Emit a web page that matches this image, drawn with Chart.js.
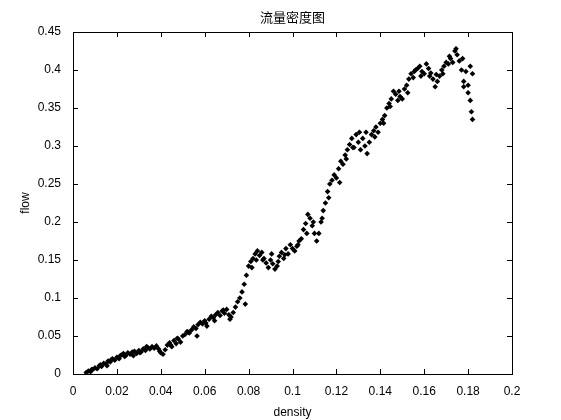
<!DOCTYPE html>
<html>
<head>
<meta charset="utf-8">
<script src="https://cdn.jsdelivr.net/npm/chart.js@4"></script>
<style>
  body { margin: 0; background: #fff; }
  #wrap { width: 561px; height: 420px; }
</style>
</head>
<body>
<div id="wrap"><canvas id="c" width="561" height="420"></canvas></div>
<script>
// densidad / flujo
const densityVals = [0.006,0.007,0.008,0.009,0.010,0.011,0.012,0.013,0.014,0.015,0.016,0.017,0.018,0.019,0.020,0.021,0.022,0.023,0.024,0.025,0.026,0.027,0.028,0.029,0.030,0.031,0.032,0.033,0.034,0.035,0.036,0.037,0.038,0.039,0.040,0.041,0.042,0.043,0.044,0.045,0.046,0.047,0.048,0.049,0.050,0.051,0.052,0.053,0.054,0.055,0.056,0.057,0.058,0.059,0.060,0.061,0.062,0.063,0.064,0.065,0.066,0.067,0.068,0.069,0.070,0.071,0.072,0.073,0.074,0.075,0.076,0.077,0.078,0.079,0.080,0.081,0.082,0.083,0.084,0.085,0.086,0.087,0.088,0.089,0.090,0.091,0.092,0.093,0.094,0.095,0.096,0.097,0.098,0.099,0.100,0.101,0.102,0.103,0.104,0.105,0.106,0.107,0.108,0.109,0.110,0.111,0.112,0.113,0.114,0.115,0.116,0.117,0.118,0.119,0.120,0.121,0.122,0.123,0.124,0.125,0.126,0.127,0.128,0.129,0.130,0.131,0.132,0.133,0.134,0.135,0.136,0.137,0.138,0.139,0.140,0.141,0.142,0.143,0.144,0.145,0.146,0.147,0.148,0.149,0.150,0.151,0.152,0.153,0.154,0.155,0.156,0.157,0.158,0.159,0.160,0.161,0.162,0.163,0.164,0.165,0.166,0.167,0.168,0.169,0.170,0.171,0.172,0.173,0.174,0.175,0.176,0.177,0.178,0.179,0.180,0.181,0.182,0.181,0.182,0.1815,0.178,0.180,0.0085,0.0125,0.0175,0.0235,0.0305,0.0445,0.0525,0.0605,0.0685,0.0835,0.0965,0.1135,0.1245,0.1335,0.1445,0.1555,0.1685,0.1745,
    0.0155,0.0215,0.0275,0.0335,0.0395,0.0475,0.0565,0.0645,0.0715,0.0785,0.0815,0.0865,0.0905,0.0935,0.1025,0.1065,0.1095,0.1165,0.1215,0.1275,0.1305,0.1375,0.1415,0.1485,0.1525,0.1585,0.1625,0.1655,0.1715,0.1775];
const flowVals = [0.002,0.004,0.003,0.006,0.008,0.007,0.011,0.010,0.014,0.013,0.017,0.016,0.020,0.018,0.022,0.020,0.025,0.027,0.024,0.028,0.026,0.029,0.030,0.027,0.031,0.029,0.033,0.031,0.035,0.033,0.036,0.034,0.037,0.033,0.028,0.026,0.032,0.038,0.041,0.036,0.044,0.040,0.046,0.042,0.050,0.052,0.056,0.054,0.058,0.062,0.060,0.065,0.068,0.066,0.070,0.063,0.072,0.076,0.074,0.078,0.081,0.077,0.083,0.080,0.085,0.078,0.075,0.081,0.088,0.095,0.100,0.108,0.118,0.130,0.142,0.148,0.152,0.158,0.162,0.156,0.160,0.152,0.146,0.140,0.150,0.145,0.138,0.142,0.155,0.160,0.152,0.165,0.158,0.170,0.165,0.162,0.168,0.175,0.178,0.190,0.198,0.210,0.205,0.195,0.185,0.175,0.185,0.200,0.215,0.225,0.240,0.250,0.255,0.262,0.258,0.270,0.280,0.276,0.288,0.295,0.302,0.310,0.298,0.315,0.305,0.295,0.310,0.300,0.290,0.305,0.315,0.320,0.325,0.318,0.330,0.335,0.340,0.350,0.356,0.362,0.372,0.368,0.360,0.365,0.362,0.375,0.380,0.388,0.395,0.390,0.400,0.402,0.405,0.398,0.395,0.408,0.402,0.396,0.388,0.378,0.385,0.392,0.400,0.405,0.410,0.408,0.415,0.410,0.425,0.420,0.412,0.400,0.385,0.398,0.380,0.405,0.395,0.360,0.335,0.345,0.378,0.370,0.006,0.012,0.019,0.023,0.028,0.038,0.055,0.067,0.084,0.150,0.157,0.205,0.283,0.318,0.352,0.398,0.395,0.428,
    0.011,0.024,0.024,0.036,0.030,0.047,0.050,0.070,0.072,0.092,0.140,0.150,0.158,0.148,0.170,0.185,0.200,0.232,0.252,0.298,0.318,0.312,0.330,0.372,0.370,0.392,0.392,0.394,0.418,0.415];
const xTicks = [0,0.02,0.04,0.06,0.08,0.1,0.12,0.14,0.16,0.18,0.2];
const yTicks = [0,0.05,0.1,0.15,0.2,0.25,0.3,0.35,0.4,0.45];

const puntos = densityVals.map((d, i) => ({ x: d, y: flowVals[i] }));

// marco completo y marcas hacia dentro, estilo MATLAB
const marcoPlugin = {
    id: 'marco',
    afterDraw(chart) {
        const { ctx, chartArea: a, scales } = chart;
        ctx.save();
        ctx.strokeStyle = '#000';
        ctx.lineWidth = 1;
        ctx.strokeRect(a.left + 0.5, a.top + 0.5, a.right - a.left, a.bottom - a.top);
        ctx.beginPath();
        xTicks.forEach(t => {
            const px = Math.round(scales.x.getPixelForValue(t)) + 0.5;
            ctx.moveTo(px, a.bottom); ctx.lineTo(px, a.bottom - 5);
            ctx.moveTo(px, a.top); ctx.lineTo(px, a.top + 5);
        });
        yTicks.forEach(t => {
            const py = Math.round(scales.y.getPixelForValue(t)) + 0.5;
            ctx.moveTo(a.left, py); ctx.lineTo(a.left + 5, py);
            ctx.moveTo(a.right, py); ctx.lineTo(a.right - 5, py);
        });
        ctx.stroke();
        ctx.fillStyle = '#000';
        ctx.font = '13px "Noto Sans CJK SC"';
        ctx.textAlign = 'center';
        ctx.fillText('流量密度图', (a.left + a.right) / 2, 22);
        ctx.restore();
    }
};

const fuente = { family: 'Arial, "Liberation Sans"', size: 12 };

new Chart(document.getElementById('c'), {
    type: 'scatter',
    data: {
        datasets: [{
            data: puntos,
            pointStyle: 'rectRot',
            pointRadius: 2.8,
            backgroundColor: '#000',
            borderColor: '#000',
            borderWidth: 0
        }]
    },
    options: {
        responsive: false,
        animation: false,
        layout: { padding: { top: 32, right: 49, left: 0, bottom: 0 } },
        scales: {
            x: {
                type: 'linear', min: 0, max: 0.2,
                afterBuildTicks: s => { s.ticks = xTicks.map(v => ({ value: v })); },
                afterFit: s => { s.height = 46; },
                grid: { display: false },
                border: { display: false },
                ticks: { color: '#000', font: fuente, padding: 2, maxRotation: 0,
                    callback: v => String(+v.toFixed(2)) },
                title: { display: true, text: 'density', color: '#000', font: fuente, padding: 0 }
            },
            y: {
                type: 'linear', min: 0, max: 0.45,
                afterBuildTicks: s => { s.ticks = yTicks.map(v => ({ value: v })); },
                afterFit: s => { s.width = 73; },
                grid: { display: false },
                border: { display: false },
                ticks: { color: '#000', font: fuente, padding: 4,
                    callback: v => String(+v.toFixed(2)) },
                title: { display: true, text: 'flow', color: '#000', font: fuente, padding: { top: 18, bottom: 4 } }
            }
        },
        plugins: { legend: { display: false }, tooltip: { enabled: false } }
    },
    plugins: [marcoPlugin]
});
</script>
</body>
</html>
